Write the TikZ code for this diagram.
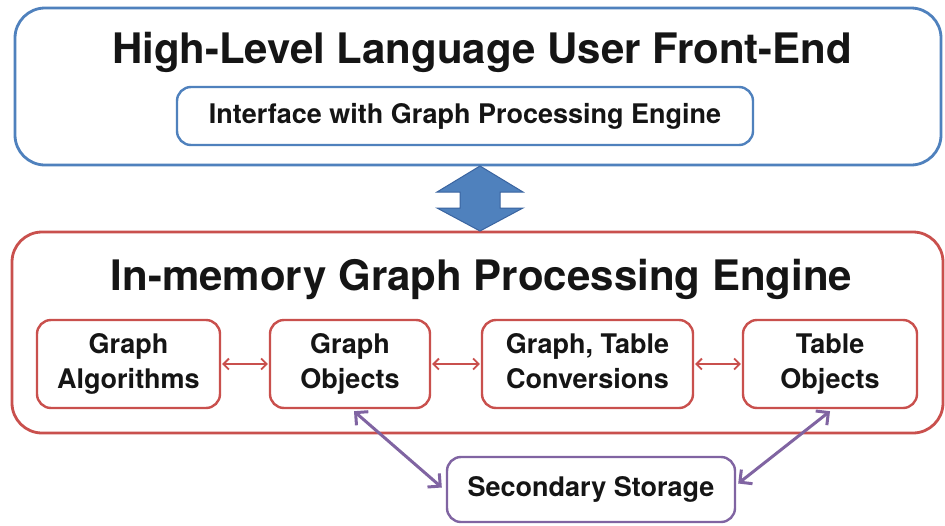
\documentclass[tikz,border=0pt]{standalone}
\usepackage{fontspec}
\setmainfont{TeX Gyre Heros}
\usetikzlibrary{arrows.meta,calc}
\definecolor{oblue}{HTML}{4F81BD}
\definecolor{dblue}{HTML}{3A64A0}
\definecolor{ored}{HTML}{C9504D}
\definecolor{opurple}{HTML}{8064A2}
\definecolor{txt}{HTML}{151515}
\begin{document}
\begin{tikzpicture}[x=1pt,y=-1pt,
  outerbox/.style={draw, line width=2.8pt, rounded corners=30pt, inner sep=0pt},
  innerbox/.style={draw, line width=2.4pt, rounded corners=14pt, inner sep=0pt, align=center,
    text=txt, font=\fontsize{27}{35}\selectfont\bfseries},
  titletext/.style={anchor=base, text=txt, inner sep=0pt, font=\fontsize{42}{50}\selectfont\bfseries},
  redlink/.style={draw=ored, line width=1.8pt, {Straight Barb[length=5.5pt,width=11pt]}-{Straight Barb[length=5.5pt,width=11pt]}, shorten <=1pt, shorten >=1pt},
  purplelink/.style={draw=opurple, line width=3pt, {Straight Barb[length=9pt,width=18pt]}-{Straight Barb[length=9pt,width=18pt]}}
]
\useasboundingbox[fill=white] (0,0) rectangle (945,525);

% top block
\node[outerbox, draw=oblue, minimum width=926pt, minimum height=157pt] (top) at (478,86.5) {};
\node[titletext] (toptitle) at (482,63) {High-Level Language User Front-End};
\node[innerbox, draw=oblue, minimum width=576pt, minimum height=58pt] (iface) at (465,116) {Interface with Graph Processing Engine\strut};

% bottom block
\node[outerbox, draw=ored, minimum width=931pt, minimum height=201pt] (engine) at (477.5,332.5) {};
\node[titletext] (enginetitle) at (481.5,290) {In-memory Graph Processing Engine};

\node[innerbox, draw=ored, minimum width=183pt, minimum height=88pt] (alg) at (128.5,364) {Graph\strut\\Algorithms\strut};
\node[innerbox, draw=ored, minimum width=160pt, minimum height=88pt] (gobj) at (350,364) {Graph\strut\\Objects\strut};
\node[innerbox, draw=ored, minimum width=211pt, minimum height=88pt] (conv) at (587.5,364) {Graph, Table\strut\\Conversions\strut};
\node[innerbox, draw=ored, minimum width=174pt, minimum height=88pt] (tobj) at (830,364) {Table\strut\\Objects\strut};

\node[innerbox, draw=opurple, minimum width=288pt, minimum height=65pt] (store) at (591,489.5) {Secondary Storage\strut};

% block double arrow between the two layers
\filldraw[fill=oblue, draw=dblue, line width=1pt, line join=miter]
  (480,166) -- (523,192) -- (500,192) -- (500,208) -- (523,208) -- (480,231)
  -- (437,208) -- (460,208) -- (460,192) -- (437,192) -- cycle;

% connectors
\draw[redlink] (alg.east) -- (gobj.west);
\draw[redlink] (gobj.east) -- (conv.west);
\draw[redlink] (conv.east) -- (tobj.west);
\draw[purplelink] ($(gobj.south)+(4,2)$) -- ($(store.west)+(-4,-2)$);
\draw[purplelink] ($(tobj.south)+(0,2)$) -- ($(store.east)+(2,-6)$);
\end{tikzpicture}
\end{document}
